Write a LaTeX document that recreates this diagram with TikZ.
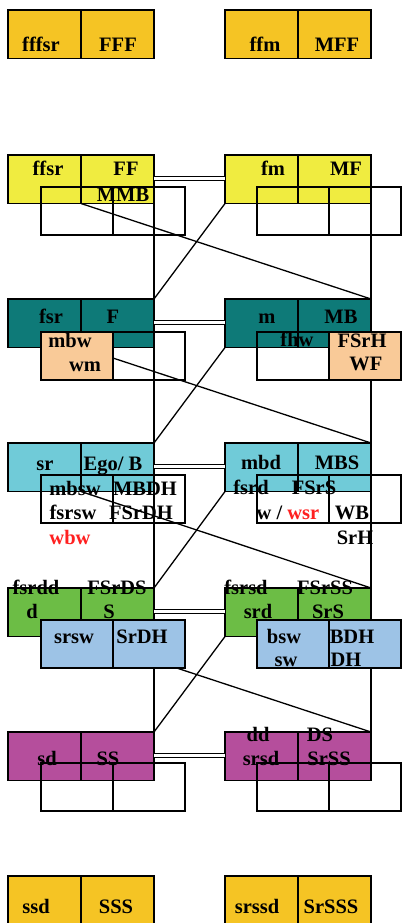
\documentclass[tikz,border=0pt]{standalone}
\usepackage{fontspec}
\setmainfont{Liberation Serif}
\definecolor{gold}{RGB}{245,196,36}
\definecolor{lemon}{RGB}{240,236,64}
\definecolor{tealx}{RGB}{14,122,120}
\definecolor{peach}{RGB}{249,202,152}
\definecolor{cyanx}{RGB}{112,203,216}
\definecolor{greenx}{RGB}{108,189,69}
\definecolor{bluex}{RGB}{157,195,230}
\definecolor{magx}{RGB}{181,78,156}
\definecolor{redx}{RGB}{255,32,32}
\begin{document}
\begin{tikzpicture}[x=1pt,y=-1pt,
  cell/.style={draw=black, line width=1.3pt, minimum width=73pt, minimum height=48.5pt, inner sep=0pt, outer sep=0pt, anchor=north west},
  ocell/.style={draw=black, line width=1.3pt, minimum width=72pt, minimum height=48pt, inner sep=0pt, outer sep=0pt, anchor=north west},
  lbl/.style={anchor=base, inner sep=0pt, font=\fontsize{20.5}{24}\selectfont\bfseries},
  link/.style={line width=1.3pt},
  dbl/.style={double=white, double distance=3.4pt, line width=1.2pt}]
\useasboundingbox (0,0) rectangle (402,923);
% main cells
\foreach \i/\y/\c in {1/10/gold,2/155/lemon,3/299/tealx,4/443/cyanx,5/588/greenx,6/732/magx,7/876/gold}{
  \node[cell, fill=\c] (al\i) at (8,\y) {};
  \node[cell, fill=\c] (ar\i) at (81,\y) {};
  \node[cell, fill=\c] (bl\i) at (225,\y) {};
  \node[cell, fill=\c] (br\i) at (298,\y) {};
}
% connectors
\foreach \i/\j in {2/3,3/4,4/5,5/6}{
  \draw[link] (ar\i.south east) -- (ar\j.north east);
  \draw[link] (br\i.south east) -- (br\j.north east);
  \draw[link] (al\i.south east) -- (br\j.north east);
  \draw[link] (bl\i.south west) -- (ar\j.north east);
}
\foreach \i in {2,3,4,5,6}{
  \draw[dbl] ([yshift=-23.5pt]ar\i.north east) -- ([yshift=-23.5pt]bl\i.north west);
}
% overlay cells
\foreach \i/\y/\ca/\cb/\cc/\cd in {2/187/none/none/none/none,3/332/peach/none/none/peach,4/475/none/none/none/none,5/620/bluex/bluex/bluex/bluex,6/763/none/none/none/none}{
  \node[ocell, fill=\ca] (oal\i) at (41,\y) {};
  \node[ocell, fill=\cb] (oar\i) at (113,\y) {};
  \node[ocell, fill=\cc] (obl\i) at (257,\y) {};
  \node[ocell, fill=\cd] (obr\i) at (329,\y) {};
}
% texts
\node[lbl] (t1) at (41,52) {fffsr};
\node[lbl] (t2) at (118,52) {FFF};
\node[lbl] (t3) at (265,52) {ffm};
\node[lbl] (t4) at (337,52) {MFF};
\node[lbl] (t5) at (48,175) {ffsr};
\node[lbl] (t6) at (126,175) {FF};
\node[lbl] (t7) at (123,201) {MMB};
\node[lbl] (t8) at (273,175) {fm};
\node[lbl] (t9) at (346,175) {MF};
\node[lbl] (t10) at (51,323) {fsr};
\node[lbl] (t11) at (113,323) {F};
\node[lbl] (t12) at (267,323) {m};
\node[lbl] (t13) at (341,323) {MB};
\node[lbl] (t14) at (70,347) {mbw};
\node[lbl] (t15) at (85,371) {wm};
\node[lbl] (t16) at (297,346) {fhw};
\node[lbl] (t17) at (362,347) {FSrH};
\node[lbl] (t18) at (366,370) {WF};
\node[lbl] (t19) at (45,470) {sr};
\node[lbl] (t20) at (113,470) {Ego/ B};
\node[lbl] (t21) at (75,495) {mbsw};
\node[lbl] (t22) at (145,495) {MBDH};
\node[lbl] (t23) at (73,519) {fsrsw};
\node[lbl] (t24) at (141,519) {FSrDH};
\node[lbl, text=redx] (t25) at (70,544) {wbw};
\node[lbl] (t26) at (261,469) {mbd};
\node[lbl] (t27) at (337,469) {MBS};
\node[lbl] (t28) at (251,494) {fsrd};
\node[lbl] (t29) at (314,494) {FSrS};
\node[lbl] (t30) at (288,519) {w / \textcolor{redx}{wsr}};
\node[lbl] (t31) at (352,519) {WB};
\node[lbl] (t32) at (355,544) {SrH};
\node[lbl] (t33) at (36,594) {fsrdd};
\node[lbl] (t34) at (32,618) {d};
\node[lbl] (t35) at (117,594) {FSrDS};
\node[lbl] (t36) at (109,618) {S};
\node[lbl] (t37) at (74,643) {srsw};
\node[lbl] (t38) at (142,643) {SrDH};
\node[lbl] (t39) at (246,594) {fsrsd};
\node[lbl] (t40) at (258,618) {srd};
\node[lbl] (t41) at (325,594) {FSrSS};
\node[lbl] (t42) at (328,618) {SrS};
\node[lbl] (t43) at (284,643) {bsw};
\node[lbl] (t44) at (286,666) {sw};
\node[lbl] (t45) at (352,643) {BDH};
\node[lbl] (t46) at (346,666) {DH};
\node[lbl] (t47) at (47,765) {sd};
\node[lbl] (t48) at (108,765) {SS};
\node[lbl] (t49) at (258,741) {dd};
\node[lbl] (t50) at (261,765) {srsd};
\node[lbl] (t51) at (320,741) {DS};
\node[lbl] (t52) at (329,765) {SrSS};
\node[lbl] (t53) at (36,913) {ssd};
\node[lbl] (t54) at (116,913) {SSS};
\node[lbl] (t55) at (257,913) {srssd};
\node[lbl] (t56) at (331,913) {SrSSS};
\end{tikzpicture}
\end{document}
